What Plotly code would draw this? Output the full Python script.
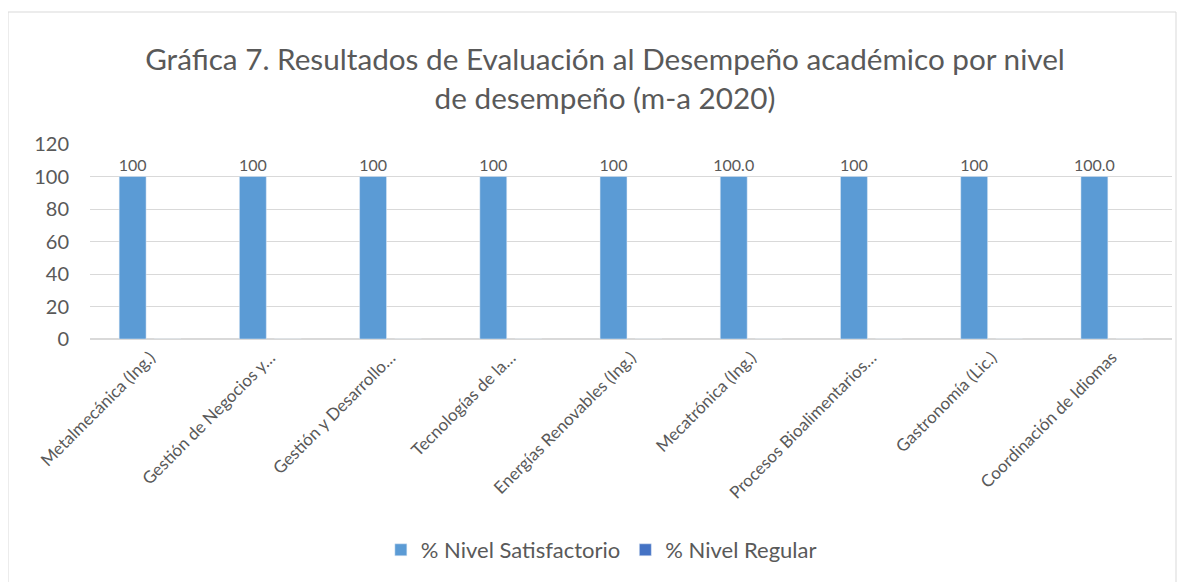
import plotly.graph_objects as go

categorias = [
    "Metalmecánica (Ing.)",
    "Gestión de Negocios y…",
    "Gestión y Desarrollo…",
    "Tecnologías de la…",
    "Energías Renovables (Ing.)",
    "Mecatrónica (Ing.)",
    "Procesos Bioalimentarios…",
    "Gastronomía (Lic.)",
    "Coordinación de Idiomas",
]
satisfactorio = [100, 100, 100, 100, 100, 100.0, 100, 100, 100.0]
etiquetas_satisfactorio = ["100", "100", "100", "100", "100", "100.0", "100", "100", "100.0"]
regular = [0, 0, 0, 0, 0, 0, 0, 0, 0]

# page body adds 8px offset, so positions below are screen px minus 8
OFF = 8
W, H = 1185, 582
L = 90 - OFF
T = 144 - OFF
R = W - (1172 - OFF)
B = H - (339 - OFF)
FONT = "Lato, Open Sans, sans-serif"
GRIS = "#595959"

fig = go.Figure()
fig.add_trace(go.Bar(
    x=categorias, y=satisfactorio, name="% Nivel Satisfactorio",
    marker_color="#5B9BD5", text=etiquetas_satisfactorio,
    textposition="outside", textfont=dict(size=16, color=GRIS),
    constraintext="none", textangle=0, cliponaxis=False,
))
fig.add_trace(go.Bar(
    x=categorias, y=regular, name="% Nivel Regular",
    marker_color="#4472C4",
))

pw = W - L - R
ph = H - T - B
def px_x(v):
    return (v - OFF - L) / pw
def px_y(v):
    return (H - B - (v - OFF)) / ph

fig.add_shape(type="rect", xref="paper", yref="paper",
              x0=px_x(8), x1=px_x(1176), y0=px_y(620), y1=px_y(12),
              line=dict(color="#D9D9D9", width=1), layer="below")

fig.update_layout(
    width=W, height=H,
    margin=dict(l=L, r=R, t=T, b=B),
    paper_bgcolor="white", plot_bgcolor="white",
    font=dict(family=FONT, color=GRIS),
    title=dict(
        text="Gráfica 7. Resultados de Evaluación al Desempeño académico por nivel<br>de desempeño (m-a 2020)",
        x=(605 - OFF) / W, xanchor="center", y=1 - (70 - OFF) / H, yanchor="middle",
        font=dict(size=29.7, color=GRIS, family=FONT),
    ),
    barmode="group", bargap=0.418, bargroupgap=0.23,
    showlegend=True,
    legend=dict(orientation="h", x=0.4726, xanchor="center", y=px_y(550), yanchor="middle",
                font=dict(size=22, color=GRIS), traceorder="normal",
                itemwidth=30),
    xaxis=dict(tickangle=-45, tickfont=dict(size=17, color=GRIS),
               showline=True, linecolor="#D9D9D9", linewidth=1, ticks="",
               ticklabelstandoff=1),
    yaxis=dict(range=[0, 120], dtick=20, tickfont=dict(size=20, color=GRIS),
               gridcolor="#D9D9D9", zeroline=True, zerolinecolor="#D9D9D9",
               ticks="", ticklabelstandoff=20, showline=False),
)

fig.write_html("out.html")
